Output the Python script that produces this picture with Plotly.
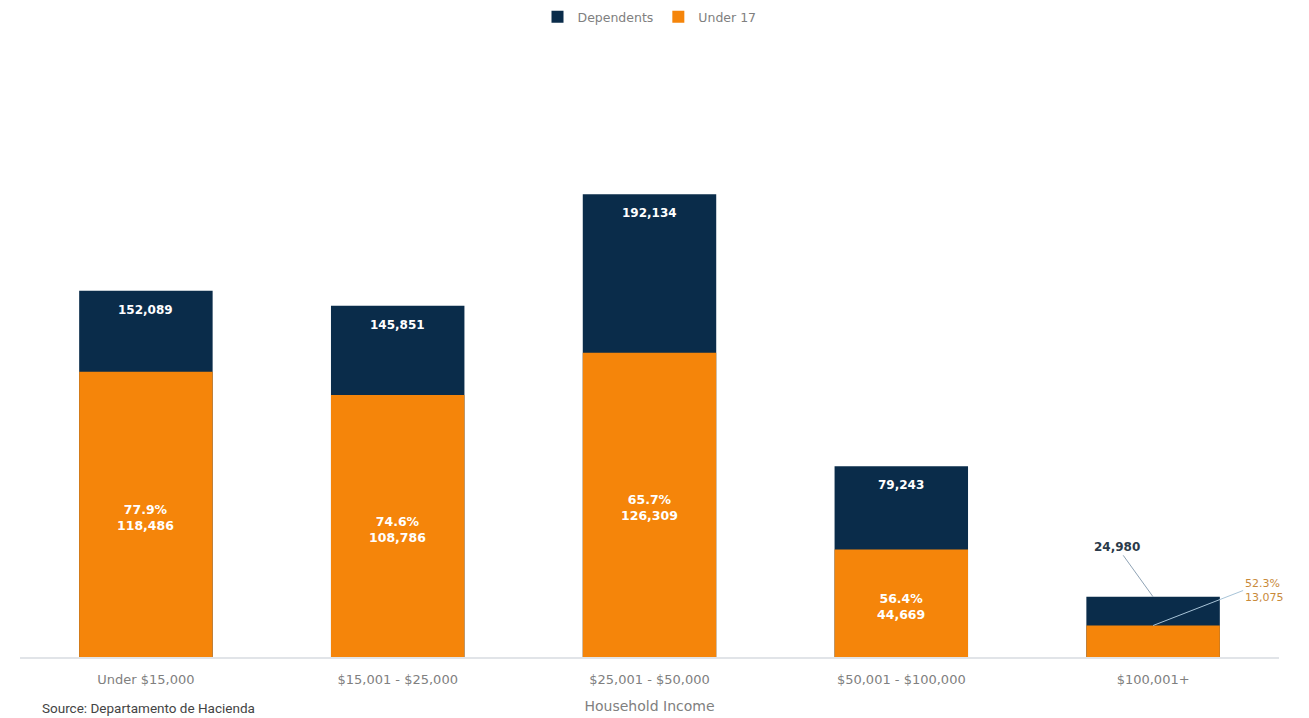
import plotly.graph_objects as go

categories = ["Under $15,000", "$15,001 - $25,000", "$25,001 - $50,000", "$50,001 - $100,000", "$100,001+"]
dependents = [152089, 145851, 192134, 79243, 24980]
under17 = [118486, 108786, 126309, 44669, 13075]
pct_labels = ["77.9%", "74.6%", "65.7%", "56.4%", "52.3%"]

NAVY = "#0A2C4A"
ORANGE = "#F5850A"
FONT = "DejaVu Sans"
GRAY = "#808080"

fig = go.Figure()
fig.add_trace(go.Bar(name="Dependents", x=categories, y=dependents, marker_color=NAVY,
                     marker_line_width=0, hoverinfo="skip"))
fig.add_trace(go.Bar(name="Under 17", x=categories, y=under17, marker_color=ORANGE,
                     marker_line_width=0, hoverinfo="skip"))

n = len(categories)
for i in range(n - 1):
    fig.add_annotation(x=categories[i], y=dependents[i], text=f"<b>{dependents[i]:,}</b>",
                       showarrow=False, yshift=-19, font=dict(family=FONT, size=12, color="white"))
    fig.add_annotation(x=categories[i], y=under17[i] / 2,
                       text=f"<b>{pct_labels[i]}<br>{under17[i]:,}</b>",
                       showarrow=False, yshift=-3, font=dict(family=FONT, size=12.5, color="white"))

j = n - 1
fig.add_annotation(x=categories[j], y=dependents[j], text=f"<b>{dependents[j]:,}</b>",
                   showarrow=True, arrowhead=0, arrowwidth=1, arrowcolor="#8FA3B5",
                   ax=-36, ay=-50, font=dict(family=FONT, size=12, color="#2B3A4A"))
fig.add_annotation(x=categories[j], y=under17[j], text=f"{pct_labels[j]}<br>{under17[j]:,}",
                   showarrow=True, arrowhead=0, arrowwidth=1, arrowcolor="#A8C4D8",
                   ax=90, ay=-35, align="left", xanchor="left",
                   font=dict(family=FONT, size=11, color="#C98A3A"))

fig.add_annotation(xref="paper", yref="paper", x=0.016, y=-0.085, xanchor="left", yanchor="middle",
                   text="Source: Departamento de Hacienda", showarrow=False,
                   font=dict(family="Roboto", size=13.5, color="#444444"))

fig.update_layout(
    width=1309, height=718,
    barmode="overlay",
    bargap=0.47,
    plot_bgcolor="white", paper_bgcolor="white",
    margin=dict(l=20, r=30, t=55, b=61, autoexpand=False),
    font=dict(family=FONT, color=GRAY),
    showlegend=True,
    legend=dict(orientation="h", x=0.5, xanchor="center", y=1.063, yanchor="middle",
                font=dict(family=FONT, size=12.5, color=GRAY), traceorder="normal"),
    xaxis=dict(range=[-0.5, 4.5], showgrid=False, showline=True, linecolor="#E1E4E8", linewidth=2,
               tickfont=dict(family=FONT, size=13, color=GRAY),
               ticks="outside", ticklen=9, tickcolor="rgba(0,0,0,0)",
               title=dict(text="Household Income", standoff=16,
                          font=dict(family=FONT, size=14, color=GRAY)),
               automargin=False, fixedrange=True),
    yaxis=dict(range=[0, 250000], visible=False, showgrid=False, zeroline=False, fixedrange=True),
)

fig.write_html("out.html", config={"displayModeBar": False},
               post_script="document.body.style.margin='0';")
